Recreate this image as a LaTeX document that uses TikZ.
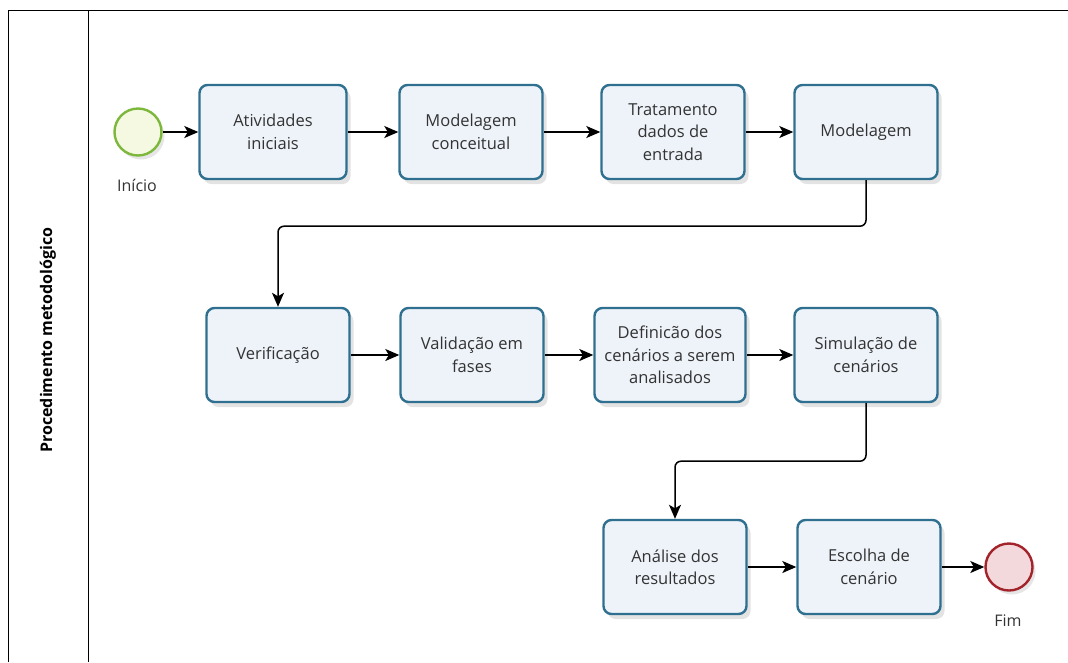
\documentclass[tikz,border=0pt]{standalone}
\usepackage{fontspec}
\setmainfont{Open Sans}
\usetikzlibrary{arrows.meta,shadows}
\definecolor{tarefaborda}{HTML}{2F6F8F}
\definecolor{tarefafundo}{HTML}{EEF3FA}
\definecolor{inicioborda}{HTML}{7DB83C}
\definecolor{iniciofundo}{HTML}{F5F9E2}
\definecolor{fimborda}{HTML}{A3232B}
\definecolor{fimfundo}{HTML}{F3D9DC}

\begin{document}
\begin{tikzpicture}[x=1pt,y=-1pt,
  tarefa/.style={draw=tarefaborda, line width=2.4pt, rounded corners=8pt,
    fill=tarefafundo, minimum width=143pt, minimum height=94pt, align=center,
    font=\fontsize{16.5}{22.5}\selectfont, text=black!80,
    drop shadow={opacity=0.22, shadow xshift=4pt, shadow yshift=-5pt}},
  evento/.style={circle, line width=2.4pt, minimum size=47pt,
    drop shadow={opacity=0.2, shadow xshift=3pt, shadow yshift=-4pt}},
  rotulo/.style={font=\fontsize{16}{19}\selectfont, text=black!80},
  fluxo/.style={line width=1.5pt, -{Stealth[length=14pt,width=12pt,inset=3.5pt]}},
]
\useasboundingbox (0,0) rectangle (1068,662);
% raia
\draw[line width=1pt] (8,662) -- (8,10) -- (1068,10);
\draw[line width=1pt] (88,10) -- (88,662);
\node[rotate=90, font=\bfseries\fontsize{16}{19}\selectfont] (raia) at (48,340) {Procedimento metodológico};

% linha 1
\node[evento, draw=inicioborda, fill=iniciofundo] (ini) at (138,132) {};
\node[rotulo] (inilabel) at (137,185) {Início};
\node[tarefa, minimum width=147pt] (ativ) at (273,132) {Atividades\\iniciais};
\node[tarefa] (conc) at (471,132) {Modelagem\\conceitual};
\node[tarefa] (trat) at (673,132) {Tratamento\\dados de\\entrada};
\node[tarefa] (mod) at (866,132) {Modelagem};

% linha 2
\node[tarefa] (ver) at (278,355) {Verificação};
\node[tarefa] (val) at (472,355) {Validação em\\fases};
\node[tarefa, minimum width=151pt] (def) at (670,355) {Definicão dos\\cenários a serem\\analisados};
\node[tarefa] (sim) at (866,355) {Simulação de\\cenários};

% linha 3
\node[tarefa] (ana) at (675,567) {Análise dos\\resultados};
\node[tarefa] (esc) at (869,567) {Escolha de\\cenário};
\node[evento, draw=fimborda, fill=fimfundo] (fim) at (1009,567) {};
\node[rotulo] (fimlabel) at (1008,621) {Fim};

% fluxos
\draw[fluxo] (ini) -- (ativ);
\draw[fluxo] (ativ) -- (conc);
\draw[fluxo] (conc) -- (trat);
\draw[fluxo] (trat) -- (mod);
\draw[fluxo, rounded corners=6pt] (mod.south) -- ++(0,46) -| (ver.north);
\draw[fluxo] (ver) -- (val);
\draw[fluxo] (val) -- (def);
\draw[fluxo] (def) -- (sim);
\draw[fluxo, rounded corners=6pt] (sim.south) -- ++(0,58) -| (ana.north);
\draw[fluxo] (ana) -- (esc);
\draw[fluxo] (esc) -- (fim);
\end{tikzpicture}
\end{document}
